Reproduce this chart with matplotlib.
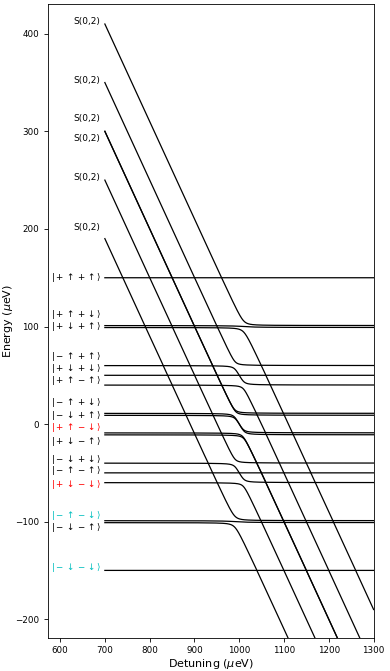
import numpy as np
import matplotlib.pyplot as plt

# (1,1) states |left right> and their energies (ueV)
kets = ['+↑+↑', '+↑+↓', '+↓+↑', '−↑+↑', '+↓+↓', '+↑−↑', '−↑+↓', '−↓+↑',
        '+↑−↓', '+↓−↑', '−↓+↓', '−↑−↑', '+↓−↓', '−↑−↓', '−↓−↑', '−↓−↓']
levels = [150, 101, 99, 60, 50, 40, 11, 9, -9, -11, -40, -50, -60, -99, -101, -150]
label_y = [150, 112.5, 100, 69, 57, 45, 21.8, 9.2, -3.7, -17.4, -36, -48, -61.7, -94, -106, -147]
label_colors = ['k', 'k', 'k', 'k', 'k', 'k', 'k', 'k',
                'r', 'k', 'k', 'k', 'r', 'c', 'k', 'c']

# (0,2) states: pair of orbitals in the right dot, energy = offset - detuning
s02_pairs = [('+↑', '+↓'), ('+↑', '−↑'), ('+↑', '−↓'), ('+↓', '−↑'), ('+↓', '−↓'), ('−↑', '−↓')]
s02_offset = [1110, 1050, 1000, 1000, 950, 890]
s02_label_y = [412.6, 352, 313, 293, 253, 201]
tunnel = 4.0

eps = np.linspace(700, 1300, 1201)

n11 = len(kets)
n = n11 + len(s02_pairs)
H0 = np.zeros((n, n))
H0[np.arange(n11), np.arange(n11)] = levels
for k, (a, b) in enumerate(s02_pairs):
    j = n11 + k
    H0[j, j] = s02_offset[k]
    i1 = kets.index(a + b)
    i2 = kets.index(b + a)
    H0[i1, j] = H0[j, i1] = tunnel
    H0[i2, j] = H0[j, i2] = -tunnel

slope = np.zeros(n)
slope[n11:] = -1.0
E = np.array([np.linalg.eigvalsh(H0 + np.diag(slope * e)) for e in eps])


def mathket(s):
    s = s.replace('↑', r'\uparrow').replace('↓', r'\downarrow').replace('−', '-')
    return r'$|' + s + r'\rangle$'


fig = plt.figure(figsize=(3.9, 6.71), dpi=100)
ax = fig.add_axes([0.123, 0.0496, 0.835, 0.945])

for i in range(n):
    ax.plot(eps, E[:, i], color='k', lw=0.9)

for name, y, c in zip(kets, label_y, label_colors):
    ax.text(692, y, mathket(name), color=c, fontsize=6.3, ha='right', va='center')
for y in s02_label_y:
    ax.text(689, y, 'S(0,2)', fontsize=6.5, ha='right', va='center')

ax.set_xlim(573, 1300)
ax.set_ylim(-219, 431)
ax.set_xticks(np.arange(600, 1301, 100))
ax.set_yticks(np.arange(-200, 401, 100))
ax.tick_params(labelsize=6.3, length=2.8, width=0.6)
for sp in ax.spines.values():
    sp.set_linewidth(0.6)
ax.set_xlabel(r'Detuning ($\mu$eV)', fontsize=8, labelpad=1)
ax.set_ylabel(r'Energy ($\mu$eV)', fontsize=8)
ax.yaxis.set_label_coords(-0.10, 0.5)

fig.savefig('out.png', dpi=100)
